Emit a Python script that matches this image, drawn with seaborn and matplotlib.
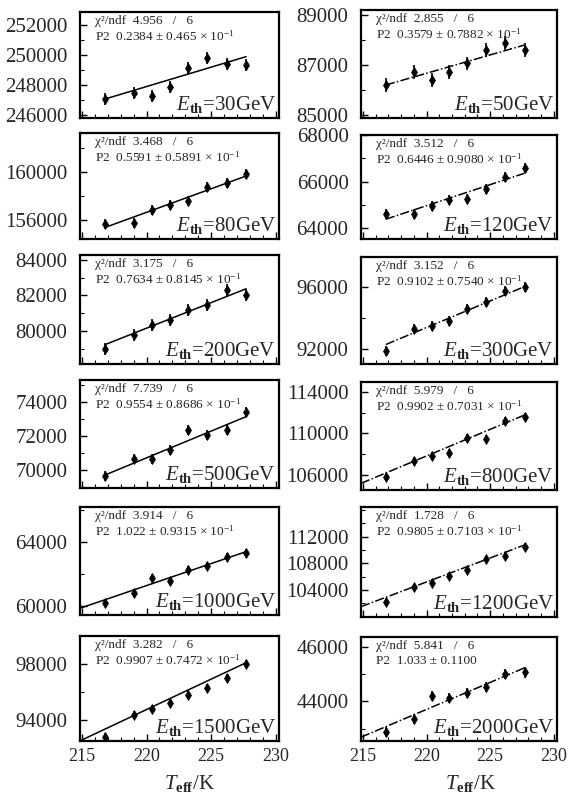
import numpy as np
import pandas as pd
import seaborn as sns
import matplotlib.pyplot as plt
from matplotlib.ticker import FixedLocator, MultipleLocator

# effective temperature of the 8 points (same in every panel)
t_eff = [216.8, 219.0, 220.4, 221.8, 223.2, 224.7, 226.2, 227.7]

energies = [30, 50, 80, 120, 200, 300, 500, 800, 1000, 1200, 1500, 2000]

# counts
n_30 = [247070, 247490, 247290, 247850, 249110, 249780, 249380, 249330]
n_50 = [86200, 86730, 86400, 86730, 87070, 87600, 87890, 87600]
n_80 = [155670, 155730, 156830, 157240, 157570, 158760, 159040, 159780]
n_120 = [64600, 64610, 64960, 65210, 65260, 65690, 66190, 66570]
n_200 = [79020, 79820, 80370, 80650, 81170, 81490, 82330, 82050]
n_300 = [91890, 93280, 93500, 93820, 94570, 94990, 95740, 96000]
n_500 = [69650, 70630, 70630, 71170, 72340, 72050, 72340, 73410]
n_800 = [105840, 107370, 107820, 108140, 109520, 109430, 111180, 111540]
n_1000 = [60200, 60790, 61720, 61570, 62240, 62490, 63070, 63320]
n_1200 = [102250, 104400, 105100, 106100, 107000, 108600, 109100, 110500]
n_1500 = [92810, 94380, 94790, 95190, 95790, 96280, 97000, 97950]
n_2000 = [42880, 43350, 44190, 44130, 44310, 44530, 45000, 45060]

# error bar half-height per panel
errors = [400, 270, 415, 215, 335, 320, 290, 385, 250, 500, 285, 190]

# fit line: start temperature, value at start, value at last point
fit_from = [216.8, 216.8, 216.8, 216.8, 216.8, 216.8, 216.8, 214.85, 214.85, 214.85, 214.85, 214.85]
fit_lo = [247070, 86200, 155390, 64390, 79260, 92280, 69710, 105200, 59860, 101500, 92530, 42690]
fit_hi = [249890, 87800, 159640, 66360, 82370, 96000, 73120, 111760, 63380, 110750, 98060, 45230]

chi2 = ["4.956", "2.855", "3.468", "3.512", "3.175", "3.152",
        "7.739", "5.979", "3.914", "1.728", "3.282", "5.841"]
p2_val = ["0.2384", "0.3579", "0.5591", "0.6446", "0.7634", "0.9102",
          "0.9554", "0.9902", "1.022", "0.9805", "0.9907", "1.033"]
p2_err = ["0.465", "0.7882", "0.5891", "0.9080", "0.8145", "0.7540",
          "0.8686", "0.7031", "0.9315", "0.7103", "0.7472", "0.1100"]
p2_exp = [True] * 11 + [False]

yticks = [
    [246000, 248000, 250000, 252000], [85000, 87000, 89000],
    [156000, 160000], [64000, 66000, 68000],
    [80000, 82000, 84000], [92000, 96000],
    [70000, 72000, 74000], [106000, 110000, 114000],
    [60000, 64000], [104000, 108000, 112000],
    [94000, 98000], [44000, 46000],
]

counts = [n_30, n_50, n_80, n_120, n_200, n_300,
          n_500, n_800, n_1000, n_1200, n_1500, n_2000]

# ---- layout ----
ylims = [
    (245800, 252870), (84880, 89200),
    (154430, 163200), (63540, 68000),
    (78175, 84257), (91030, 97900),
    (68947, 75265), (104560, 114928),
    (59440, 66158), (99950, 116450),
    (92520, 99950), (42550, 46360),
]
W, H = 575, 806
col_x = [(80, 279), (361, 557)]
rows_left = [(12, 118), (133, 239), (255, 364), (380, 488), (507, 615), (636, 741)]
rows_right = [(10, 118), (135, 239), (257, 364), (382, 490), (507, 617), (637, 741)]

sns.set_style("ticks")
plt.rcParams["font.family"] = ["Liberation Serif", "DejaVu Serif"]
plt.rcParams["mathtext.fontset"] = "custom"
plt.rcParams["mathtext.rm"] = "Liberation Serif"
plt.rcParams["mathtext.it"] = "Liberation Serif:italic"
plt.rcParams["mathtext.bf"] = "Liberation Serif:bold"

fig = plt.figure(figsize=(W / 100, H / 100), dpi=100)

for i, e in enumerate(energies):
    col = i % 2
    row = i // 2
    x0, x1 = col_x[col]
    top, bot = (rows_left if col == 0 else rows_right)[row]
    ax = fig.add_axes([x0 / W, 1 - bot / H, (x1 - x0) / W, (bot - top) / H])

    df = pd.DataFrame({"T": t_eff, "N": counts[i]})
    ax.errorbar(df["T"], df["N"], yerr=errors[i], fmt="none",
                ecolor="black", elinewidth=1.2, capsize=0, zorder=2)
    sns.scatterplot(data=df, x="T", y="N", marker="d", s=26, color="black",
                    edgecolor="black", linewidth=0.5, ax=ax, zorder=3)

    fit_df = pd.DataFrame({"T": [fit_from[i], t_eff[-1]], "N": [fit_lo[i], fit_hi[i]]})
    ls = "-" if col == 0 else (0, (6, 1.5, 1, 1.5))
    sns.lineplot(data=fit_df, x="T", y="N", color="black", lw=1.1,
                 linestyle=ls, ax=ax, zorder=2)

    ax.set_xlim(214.85, 230.25)
    ax.set_ylim(*ylims[i])
    ax.xaxis.set_major_locator(FixedLocator([215, 220, 225, 230]))
    ax.xaxis.set_minor_locator(MultipleLocator(1))
    ax.yaxis.set_major_locator(FixedLocator(yticks[i]))
    step = yticks[i][1] - yticks[i][0]
    ax.yaxis.set_minor_locator(MultipleLocator(step / 2))
    ax.tick_params(which="both", direction="in", top=False, right=False, color="black")
    ax.tick_params(which="major", length=5, width=1.0)
    ax.tick_params(which="minor", length=3, width=0.8)
    ax.tick_params(axis="y", labelsize=15, pad=9)
    ax.tick_params(axis="x", labelsize=13, pad=5)
    ax.set_yticklabels([f"{v}" for v in yticks[i]])
    if row < 5:
        ax.set_xticklabels([])
    ax.set_xlabel("")
    ax.set_ylabel("")
    for sp in ax.spines.values():
        sp.set_visible(True)
        sp.set_linewidth(1.6)
        sp.set_color("black")

    # fit statistics text
    ax.text(15 / (x1 - x0), 1 - 9 / (bot - top), f"χ²/ndf  {chi2[i]}   /   6",
            transform=ax.transAxes, fontsize=9.5, ha="left", va="center")
    p2 = f"P2  {p2_val[i]} ± {p2_err[i]}"
    if p2_exp[i]:
        p2 += r" × 10$^{-1}$"
    ax.text(15 / (x1 - x0), 1 - 24 / (bot - top), p2,
            transform=ax.transAxes, fontsize=9.5, ha="left", va="center")

    ax.text(1 - 3 / (x1 - x0), 8 / (bot - top),
            r"$\mathit{E}_{\mathbf{th}}$=" + f"{e}GeV",
            transform=ax.transAxes, fontsize=15, ha="right", va="baseline")

for cx in [190, 471]:
    fig.text(cx / W, 1 - 783 / H, r"$\mathit{T}_{\mathbf{eff}}$/K",
             fontsize=15, ha="center", va="center")

fig.savefig("out.png", dpi=100)
